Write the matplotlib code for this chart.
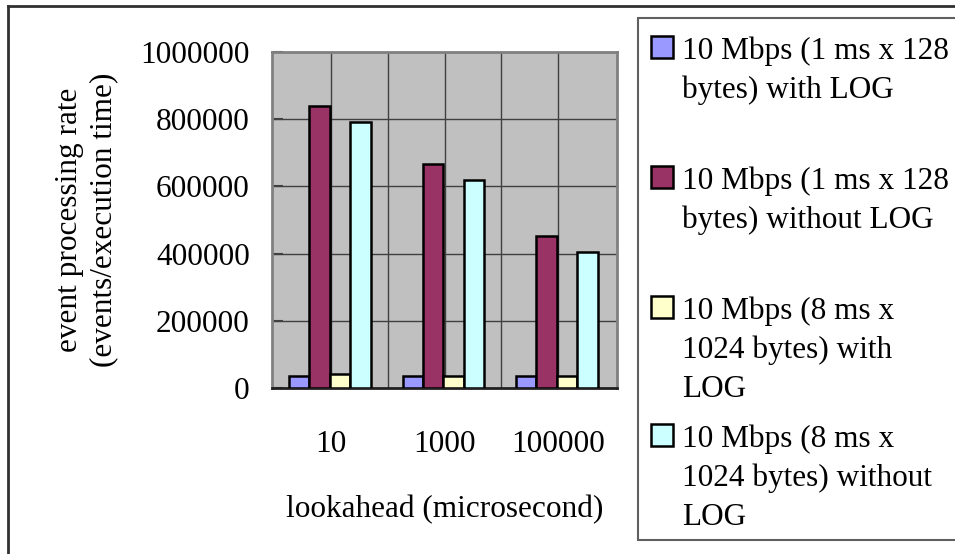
import numpy as np
import matplotlib.pyplot as plt
from matplotlib.lines import Line2D
from matplotlib.patches import Rectangle

lookahead = ['10', '1000', '100000']
series_labels = [
    '10 Mbps (1 ms x 128\nbytes) with LOG',
    '10 Mbps (1 ms x 128\nbytes) without LOG',
    '10 Mbps (8 ms x\n1024 bytes) with\nLOG',
    '10 Mbps (8 ms x\n1024 bytes) without\nLOG',
]
log_1ms = [36000, 36000, 36000]
nolog_1ms = [840000, 667000, 452000]
log_8ms = [43000, 36000, 36000]
nolog_8ms = [793000, 619000, 406000]
yticks = [0, 200000, 400000, 600000, 800000, 1000000]

colors = ['#9999FF', '#993366', '#FFFFCC', '#CCFFFF']
W, H = 955, 554
FS = 22.5

plt.rcParams['font.family'] = ['Liberation Serif', 'DejaVu Serif']

fig = plt.figure(figsize=(W / 100, H / 100), dpi=100)
ax = fig.add_axes([272 / W, 1 - 388 / H, 345 / W, 336 / H])
ax.set_facecolor('#C0C0C0')

x = np.arange(len(lookahead))
width = 0.18
all_series = [log_1ms, nolog_1ms, log_8ms, nolog_8ms]
offsets = [-0.28, -0.10, 0.08, 0.26]
for vals, off, col in zip(all_series, offsets, colors):
    ax.bar(x + off, vals, width, color=col, edgecolor='black', linewidth=1.8, zorder=3)

ax.set_xlim(-0.52, 2.52)
ax.set_ylim(0, 1000000)
ax.set_yticks(yticks)
ax.set_yticklabels([str(v) for v in yticks], fontsize=FS)
ax.set_xticks(x)
ax.set_xticklabels(lookahead, fontsize=FS)
ax.tick_params(axis='x', length=0, pad=30)
ax.tick_params(axis='y', direction='in', length=8, width=1.5, color='#404040', pad=16)

# grid lines: horizontal at ticks, vertical at category centres and boundaries
for v in yticks[1:-1]:
    ax.axhline(v, color='#404040', linewidth=1, zorder=1)
for xv in [0, 0.5, 1, 1.5, 2]:
    ax.axvline(xv, color='#404040', linewidth=1, zorder=1)

for s in ax.spines.values():
    s.set_color('#808080')
    s.set_linewidth(2)
ax.spines['bottom'].set_color('#202020')

ax.set_ylabel('event processing rate\n(events/execution time)', fontsize=FS,
              linespacing=1.25, labelpad=16)
ax.set_xlabel('lookahead (microsecond)', fontsize=FS, labelpad=26)

# outer chart border (right and bottom edges are cut off in the image)
fig.add_artist(Line2D([8 / W, 1], [1 - 6 / H, 1 - 6 / H], color='#303030', linewidth=2))
fig.add_artist(Line2D([8 / W, 8 / W], [0, 1 - 6 / H], color='#303030', linewidth=2))

# legend box
fig.add_artist(Rectangle((638 / W, 1 - 540 / H), (W + 10 - 638) / W, 522 / H,
                         transform=fig.transFigure, facecolor='white',
                         edgecolor='#606060', linewidth=1.5, clip_on=False))
square_tops = [36, 166, 296, 424]
for lab, col, top in zip(series_labels, colors, square_tops):
    fig.add_artist(Rectangle((651 / W, 1 - (top + 22) / H), 22 / W, 22 / H,
                             transform=fig.transFigure, facecolor=col,
                             edgecolor='black', linewidth=1.8))
    for i, line in enumerate(lab.split('\n')):
        fig.text(682 / W, 1 - (top + 23 + i * 39) / H, line, fontsize=FS,
                 va='baseline', ha='left')

fig.savefig('out.png', dpi=100)
